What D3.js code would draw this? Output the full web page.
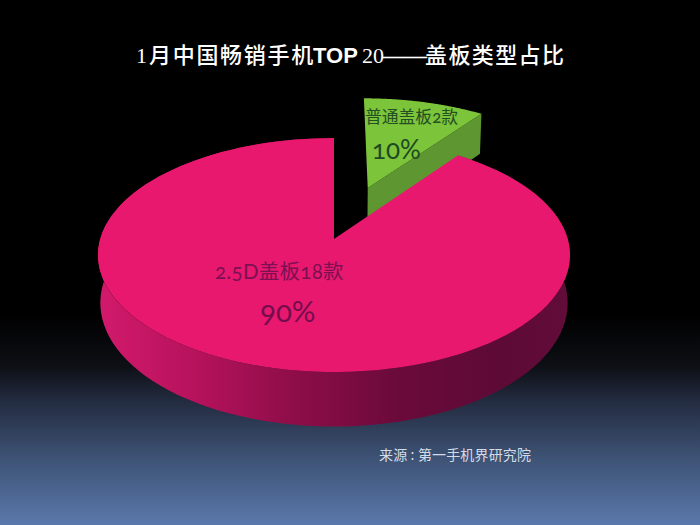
<!DOCTYPE html>
<html><head><meta charset="utf-8">
<script src="https://cdn.jsdelivr.net/npm/d3@7/dist/d3.min.js"></script>
<style>html,body{margin:0;padding:0;background:#000}svg{display:block}</style>
</head><body><svg id="c" width="700" height="525"></svg>
<script>
const categories = ["普通盖板", "2.5D盖板"];
const counts = [2, 18];
const shares = [10, 90];
const titleParts = ["1", "月中国畅销手机", "TOP", "20", "——", "盖板类型占比"];
const sourceText = "来源 : 第一手机界研究院";

const W = 700, H = 525;
const svg = d3.select("#c");
const defs = svg.append("defs");

const bg = defs.append("linearGradient").attr("id","bg").attr("x1",0).attr("x2",0).attr("y1",0).attr("y2",1);
[[0,"#000"],[0.6,"#000"],[0.7,"#0e1016"],[0.76,"#222a3e"],[0.88,"#3f5578"],[1,"#5a78ab"]]
  .forEach(d=>bg.append("stop").attr("offset",d[0]).attr("stop-color",d[1]));
svg.append("rect").attr("width",W).attr("height",H).attr("fill","url(#bg)");

const sideG = defs.append("linearGradient").attr("id","side").attr("gradientUnits","userSpaceOnUse")
  .attr("x1",94).attr("x2",570).attr("y1",0).attr("y2",0);
[[0,"#d41a6c"],[0.22,"#b5125c"],[0.43,"#8c0d47"],[0.64,"#6a0a3b"],[0.85,"#5e0a36"],[1,"#620c39"]]
  .forEach(d=>sideG.append("stop").attr("offset",d[0]).attr("stop-color",d[1]));

/* perspective projection of the pie disc */
const x0 = 334, y0 = 239, A = 114.8, B = 233.8, K = 0.137, DEPTH = 47, SHRINK = 0.99;
function project(u, v, low) {
  const w = 1 + K * v;
  const s = low ? SHRINK : 1;
  return [x0 + s * B * u / w, y0 - A * v / w + (low ? DEPTH / w : 0)];
}
const pie = d3.pie().sort(null).value(d => d)(shares);
const samples = a => d3.range(0, 121).map(i => a.startAngle + (a.endAngle - a.startAngle) * i / 120);
const line = d3.line();

function slice(a, explode) {
  const mid = (a.startAngle + a.endAngle) / 2;
  const ox = explode * Math.sin(mid), oy = explode * Math.cos(mid);
  const arc = low => samples(a).map(t => project(ox + Math.sin(t), oy + Math.cos(t), low));
  const apex = low => project(ox, oy, low);
  return {arc, apex};
}

const green = slice(pie[0], 0.497), pink = slice(pie[1], 0);

/* green wedge: radial wall, then top face */
const gEnd = g => g.arc(false)[120], gEndL = g => g.arc(true)[120];
svg.append("path").attr("fill","#5e9632").attr("d",
  line([green.apex(false), gEnd(green), gEndL(green), green.apex(true)]) + "Z");
svg.append("path").attr("fill","#7cc43a").attr("d",
  line([green.apex(false), ...green.arc(false)]) + "Z");

/* pink wedge: rim, then top face */
svg.append("path").attr("fill","url(#side)").attr("d",
  line([...pink.arc(false), ...pink.arc(true).reverse()]) + "Z");
svg.append("path").attr("fill","#e9186f").attr("d",
  line([pink.apex(false), ...pink.arc(false)]) + "Z");

/* text */
const cjk = "'Noto Sans CJK SC'";
const fams = ["'Liberation Serif'",cjk,"'Liberation Sans'","'Liberation Serif'","'Liberation Serif'",cjk];
const weights = [400,500,700,400,700,500];
const spacing = [0,1.7,0,0,0,1.4];
const titleX = [136,149,313,362,383,425];
const title = svg.append("text").attr("y",63).attr("fill","#fff").attr("font-size",22);
titleParts.forEach((t,i)=>title.append("tspan").text(t).attr("x",titleX[i])
  .attr("font-family",fams[i]).attr("font-weight",weights[i]).attr("letter-spacing",spacing[i]));

function label(x,y,size,color,text,ls){
  svg.append("text").attr("x",x).attr("y",y).attr("fill",color).attr("font-size",size)
    .attr("letter-spacing",ls||0)
    .style("font-feature-settings","'onum'").attr("font-family","Lato, 'Open Sans', "+cjk)
    .text(text);
}
label(365,123,16.8,"#234f22",`${categories[0]}${counts[0]}款`);
label(372,159,26,"#1d4a22",`${shares[0]}%`);
label(215,279,20.5,"#7b1052",`${categories[1]}${counts[1]}款`,0.3);
label(260,322,29.5,"#740d4c",`${shares[1]}%`);
svg.append("text").attr("x",379).attr("y",460).attr("fill","#d5dbe5").attr("font-size",14)
  .attr("letter-spacing",0.15).attr("font-family",cjk).attr("xml:space","preserve").text(sourceText);
</script></body></html>
